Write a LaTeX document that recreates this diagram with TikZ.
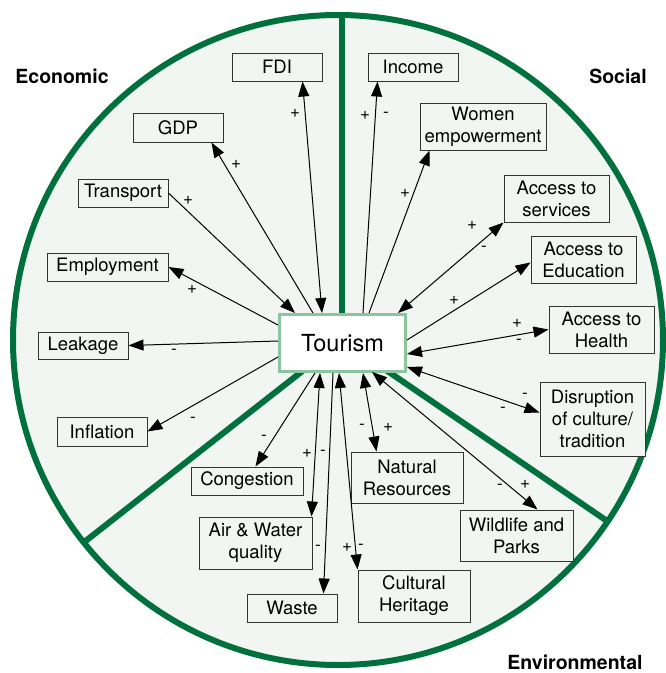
\documentclass[tikz,border=0pt]{standalone}
\usepackage{fontspec}
\setmainfont{TeX Gyre Heros}
\usetikzlibrary{arrows.meta,calc}
\definecolor{cgreen}{HTML}{00703C}
\definecolor{cfill}{HTML}{F1F6F3}
\definecolor{tgreen}{HTML}{8CC4A0}
\definecolor{bgray}{HTML}{333333}
\begin{document}
\begin{tikzpicture}[x=1pt,y=-1pt,
 box/.style={draw=bgray,line width=1pt,fill=cfill,inner sep=0pt,align=center,font=\fontsize{18.5}{22}\selectfont},
 sgn/.style={font=\fontsize{17}{17}\selectfont,inner sep=0pt},
 cat/.style={font=\bfseries\fontsize{19.5}{22}\selectfont,inner sep=0pt},
 tip/.tip={Triangle[length=15pt,width=11pt]},
 arr/.style={line width=1pt,-tip},
 dbl/.style={line width=1pt,tip-tip},
 divider/.style={draw=cgreen,line width=6pt}]
\useasboundingbox (0,0) rectangle (665,673);
% circle background
\fill[cfill] (338,340) circle (325);
\coordinate (ctr) at (342,340);
\coordinate (ptop) at (342,10);
\coordinate (pleft) at (83,543);
\coordinate (pright) at (613,525);
\begin{scope}
\clip (338,340) circle (325);
\draw[divider] (ctr) -- (ptop);
\draw[divider] (ctr) -- ($(ctr)!1.05!(pleft)$);
\draw[divider] (ctr) -- ($(ctr)!1.05!(pright)$);
\end{scope}
\draw[cgreen,line width=6pt] (338,340) circle (325);
% categories
\node[cat] (econ) at (62,76) {Economic};
\node[cat] (soc) at (618,76) {Social};
\node[cat] (env) at (575,662) {Environmental};
% central node
\node[draw=tgreen,line width=3pt,fill=white,minimum width=126pt,minimum height=57pt,inner sep=0pt,font=\fontsize{23.5}{26}\selectfont] (tour) at (342.5,343) {Tourism};
% boxes
\node[box,minimum width=90pt,minimum height=28pt] (fdi) at (277,67) {FDI};
\node[box,minimum width=90pt,minimum height=29pt] (gdp) at (178,127.5) {GDP};
\node[box,minimum width=90pt,minimum height=28pt] (trans) at (123,193) {Transport};
\node[box,minimum width=121pt,minimum height=28pt] (empl) at (107.5,267) {Employment};
\node[box,minimum width=90pt,minimum height=27pt] (leak) at (83,345.5) {Leakage};
\node[box,minimum width=90pt,minimum height=29pt] (infl) at (102,431.5) {Inflation};
\node[box,minimum width=112pt,minimum height=28pt] (cong) at (247,481) {Congestion};
\node[box,minimum width=113pt,minimum height=52pt] (air) at (255.5,543) {Air \& Water\\quality};
\node[box,minimum width=90pt,minimum height=28pt] (waste) at (292,608) {Waste};
\node[box,minimum width=112pt,minimum height=51pt] (nat) at (407,477.5) {Natural\\Resources};
\node[box,minimum width=113pt,minimum height=51pt] (wild) at (516.5,535.5) {Wildlife and\\Parks};
\node[box,minimum width=112pt,minimum height=52pt] (cult) at (414,596) {Cultural\\Heritage};
\node[box,minimum width=105pt,minimum height=74pt] (disr) at (592.5,419) {Disruption\\of culture/\\tradition};
\node[box,minimum width=105pt,minimum height=47pt] (health) at (601.5,329.5) {Access to\\Health};
\node[box,minimum width=105pt,minimum height=47pt] (edu) at (583.5,259.5) {Access to\\Education};
\node[box,minimum width=105pt,minimum height=47pt] (serv) at (556.5,198.5) {Access to\\services};
\node[box,minimum width=126pt,minimum height=47pt] (women) at (483,126.5) {Women\\empowerment};
\node[box,minimum width=90pt,minimum height=28pt] (income) at (413,67) {Income};
% connectors
\draw[dbl] ($(tour.north west)+(44,0)$) -- ($(fdi.south west)+(71,0)$);
\draw[arr] ($(tour.north west)+(35,0)$) -- ($(gdp.south west)+(79,0)$);
\draw[arr] (trans.east) -- ($(tour.north west)+(17,0)$);
\draw[arr] ($(tour.north west)+(0,12)$) -- (empl.east);
\draw[arr] ($(tour.north west)+(0,28)$) -- (leak.east);
\draw[arr] ($(tour.north west)+(0,44)$) -- (infl.east);
\draw[arr] ($(tour.south west)+(37,0)$) -- ($(cong.north west)+(65,0)$);
\draw[dbl] ($(tour.south west)+(42,0)$) -- ($(air.north east)+(-1,0)$);
\draw[arr] ($(tour.south west)+(55,0)$) -- ($(waste.north west)+(77,0)$);
\draw[dbl] ($(tour.south west)+(61,0)$) -- (cult.north west);
\draw[dbl] ($(tour.south west)+(85,0)$) -- ($(nat.north west)+(26,0)$);
\draw[dbl] ($(tour.south west)+(94,-1)$) -- ($(wild.north west)+(78,0)$);
\draw[dbl] ($(tour.south east)+(0,-6)$) -- ($(disr.north west)+(0,31)$);
\draw[dbl] ($(tour.north east)+(0,41)$) -- (health.west);
\draw[arr] ($(tour.north east)+(0,27)$) -- ($(edu.west)+(0,3)$);
\draw[dbl] ($(tour.north east)+(-9,0)$) -- (serv.south west);
\draw[arr] ($(tour.north west)+(91,0)$) -- ($(women.south west)+(10,0)$);
\draw[arr] ($(tour.north west)+(85,0)$) -- ($(income.south west)+(10,0)$);
% signs
\node[sgn] (s1) at (295,113) {+};
\node[sgn] (s2) at (236,164) {+};
\node[sgn] (s3) at (188,200) {+};
\node[sgn] (s4) at (192,289) {+};
\node[sgn] (s5) at (174,352) {-};
\node[sgn] (s6) at (193,420) {-};
\node[sgn] (s7) at (264,438) {-};
\node[sgn] (s8) at (307,453) {+};
\node[sgn] (s9) at (323,453) {-};
\node[sgn] (s10) at (318,548) {-};
\node[sgn] (s11) at (347,547) {+};
\node[sgn] (s12) at (361,547) {-};
\node[sgn] (s13) at (362,427) {-};
\node[sgn] (s14) at (388,427) {+};
\node[sgn] (s15) at (500,487) {-};
\node[sgn] (s16) at (525,484) {+};
\node[sgn] (s17) at (525,396) {-};
\node[sgn] (s18) at (503,410) {-};
\node[sgn] (s19) at (517,323) {+};
\node[sgn] (s20) at (519,342) {-};
\node[sgn] (s21) at (454,300) {+};
\node[sgn] (s22) at (472,225) {+};
\node[sgn] (s23) at (484,249) {-};
\node[sgn] (s24) at (405,193) {+};
\node[sgn] (s25) at (365,115) {+};
\node[sgn] (s26) at (386,115) {-};
\end{tikzpicture}
\end{document}
